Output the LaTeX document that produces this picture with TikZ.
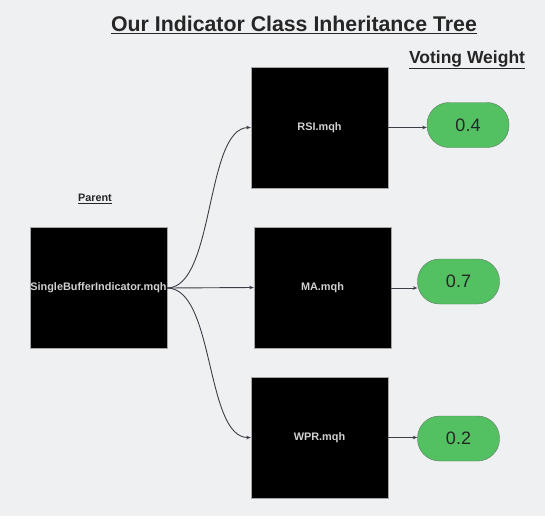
\documentclass[tikz,border=0pt]{standalone}
\usepackage{fontspec}
\setmainfont{Liberation Sans}
\usetikzlibrary{arrows.meta}
\definecolor{bg}{HTML}{EFF0F2}
\definecolor{pill}{HTML}{53C162}
\definecolor{pillline}{HTML}{5E7A62}
\definecolor{conn}{HTML}{3A3F47}
\definecolor{boxtext}{HTML}{D0D0D0}
\begin{document}
\begin{tikzpicture}[x=1pt,y=-1pt,
  blackbox/.style={draw=gray!70,fill=black,line width=0.4pt,minimum width=137pt,minimum height=121pt,inner sep=0pt,
     font=\fontsize{10.9}{13}\selectfont\bfseries,text=boxtext},
  weight/.style={draw=pillline,fill=pill,rounded corners=22pt,minimum width=82pt,minimum height=45pt,inner sep=0pt,
     font=\fontsize{18}{21}\selectfont,text=black!85},
  conn/.style={draw=conn,line width=0.9pt,-{Stealth[length=4.5pt,width=3.5pt]}},
  ulabel/.style={font=\bfseries,text=black!85,inner sep=0pt}
]
\fill[bg] (0,0) rectangle (545,516);
\useasboundingbox (0,0) rectangle (545,516);

\node[ulabel,font=\fontsize{21.3}{25}\selectfont\bfseries] (title) at (294,25) {\underline{Our Indicator Class Inheritance Tree}};
\node[ulabel,font=\fontsize{17.5}{20}\selectfont\bfseries] (vw) at (467,60) {\underline{Voting Weight}};
\node[ulabel,font=\fontsize{10.8}{13}\selectfont\bfseries] (par) at (95,199) {\underline{Parent}};

\node[blackbox] (sbi) at (98.5,287.5) {\raisebox{-2pt}{SingleBufferIndicator.mqh}};
\node[blackbox] (rsi) at (319.5,127.5) {\raisebox{-2pt}{RSI.mqh}};
\node[blackbox] (ma) at (322.5,287.5) {\raisebox{-2pt}{MA.mqh}};
\node[blackbox] (wpr) at (319.5,437.5) {\raisebox{-2pt}{WPR.mqh}};

\node[weight] (w1) at (468,125) {0.4};
\node[weight] (w2) at (458.5,281.5) {0.7};
\node[weight] (w3) at (458.5,438.5) {0.2};

\coordinate (o) at (167,288);
\draw[conn] (o) .. controls (215,288) and (205,128) .. (rsi.west);
\draw[conn] (o) -- (ma.west);
\draw[conn] (o) .. controls (215,288) and (205,438) .. (wpr.west);

\draw[conn] (rsi.east) -- (rsi.east -| w1.west);
\draw[conn] (ma.east |- 0,288) -- (w2.west |- 0,288);
\draw[conn] (wpr.east) -- (wpr.east -| w3.west);
\end{tikzpicture}
\end{document}
